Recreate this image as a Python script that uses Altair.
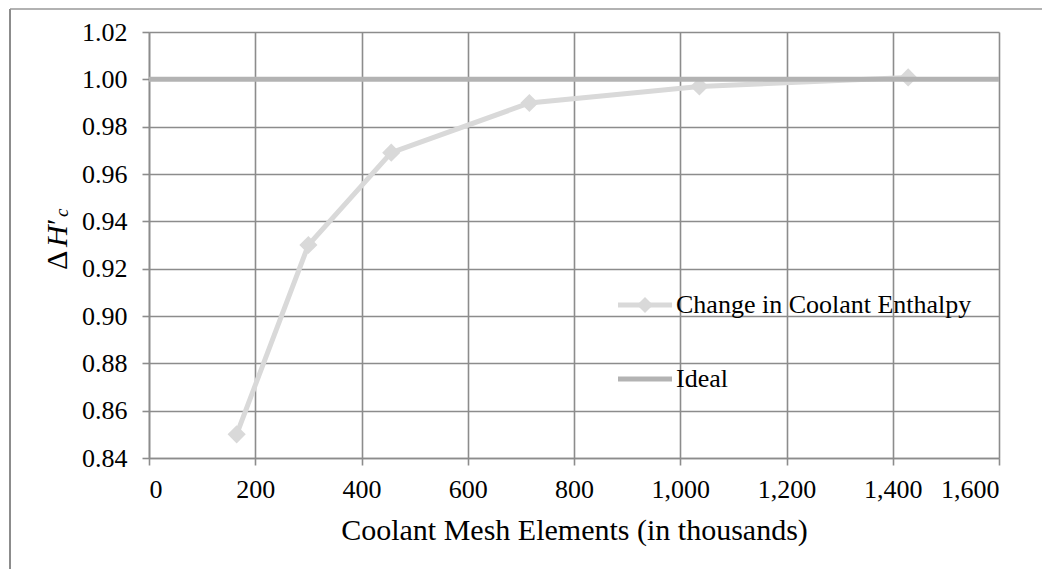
import altair as alt
import pandas as pd

# ---- data ----
mesh_k = [165, 300, 456, 716, 1036, 1429]            # coolant mesh elements (thousands)
enthalpy = [0.850, 0.930, 0.969, 0.990, 0.997, 1.0008]  # normalised change in enthalpy
ideal_x = [0, 1600]
ideal_y = [1.0, 1.0]
series_names = ["Change in Coolant Enthalpy", "Ideal"]
x_ticks = [0, 200, 400, 600, 800, 1000, 1200, 1400, 1600]
y_ticks = [0.84, 0.86, 0.88, 0.90, 0.92, 0.94, 0.96, 0.98, 1.00, 1.02]
x_title = "Coolant Mesh Elements (in thousands)"

FONT = "Liberation Serif"
GRID = "#8c8c8c"
C_CHANGE = "#d9d9d9"
C_IDEAL = "#b3b3b3"

W, H = 850, 426

change_df = pd.DataFrame({"x": mesh_k, "y": enthalpy})
ideal_df = pd.DataFrame({"x": ideal_x, "y": ideal_y})

x_enc = alt.X(
    "x:Q",
    scale=alt.Scale(domain=[0, 1600], nice=False, zero=False),
    axis=alt.Axis(
        values=x_ticks, format=",d", title=x_title,
        titleY=72, titleBaseline="middle", titleFontSize=30,
        titleFont=FONT, titleFontWeight="normal", titleColor="black",
        labelPadding=11,
    ),
)
y_enc = alt.Y(
    "y:Q",
    scale=alt.Scale(domain=[0.84, 1.02], nice=False, zero=False),
    axis=alt.Axis(values=y_ticks, format=".2f", title=None, labelPadding=15),
)

change_line = alt.Chart(change_df).mark_line(
    color=C_CHANGE, strokeWidth=5
).encode(x=x_enc, y=y_enc)

change_pts = alt.Chart(change_df).mark_point(
    shape="diamond", filled=True, color=C_CHANGE, size=330, opacity=1
).encode(x=x_enc, y=y_enc)

ideal_line = alt.Chart(ideal_df).mark_line(
    color=C_IDEAL, strokeWidth=5
).encode(x=x_enc, y=y_enc)

one = alt.Data(values=[{"k": 1}])

# ---- legend (drawn inside the plot) ----
leg_x0, leg_x1, leg_dx, leg_tx = 469, 523, 496, 527
leg_y = [273, 347]

leg_change_line = alt.Chart(one).mark_rule(color=C_CHANGE, strokeWidth=5).encode(
    x=alt.value(leg_x0), x2=alt.value(leg_x1), y=alt.value(leg_y[0]))
leg_change_pt = alt.Chart(one).mark_point(
    shape="diamond", filled=True, color=C_CHANGE, size=260, opacity=1
).encode(x=alt.value(leg_dx), y=alt.value(leg_y[0]))
leg_change_txt = alt.Chart(one).mark_text(
    text=series_names[0], font=FONT, fontSize=26, align="left", baseline="middle", color="black"
).encode(x=alt.value(leg_tx), y=alt.value(leg_y[0]))

leg_ideal_line = alt.Chart(one).mark_rule(color=C_IDEAL, strokeWidth=5).encode(
    x=alt.value(leg_x0), x2=alt.value(leg_x1), y=alt.value(leg_y[1]))
leg_ideal_txt = alt.Chart(one).mark_text(
    text=series_names[1], font=FONT, fontSize=26, align="left", baseline="middle", color="black"
).encode(x=alt.value(leg_tx), y=alt.value(leg_y[1]))

# ---- y-axis title  ΔH′c (rotated) ----
yt_x = -82
yt_delta = alt.Chart(one).mark_text(
    text="Δ", font=FONT, fontSize=30, angle=270, align="left", baseline="alphabetic", color="black"
).encode(x=alt.value(yt_x), y=alt.value(238))
yt_h = alt.Chart(one).mark_text(
    text="H", font=FONT, fontSize=30, fontStyle="italic", angle=270, align="left",
    baseline="alphabetic", color="black"
).encode(x=alt.value(yt_x), y=alt.value(215))
yt_prime = alt.Chart(one).mark_text(
    text="′", font=FONT, fontSize=30, angle=270, align="left", baseline="alphabetic", color="black"
).encode(x=alt.value(yt_x), y=alt.value(193))
yt_c = alt.Chart(one).mark_text(
    text="c", font=FONT, fontSize=19, fontStyle="italic", angle=270, align="left",
    baseline="alphabetic", color="black"
).encode(x=alt.value(yt_x + 1), y=alt.value(185))

# ---- outer chart frame (left and top edges) ----
frame_left = alt.Chart(one).mark_rule(color="#8c8c8c", strokeWidth=2).encode(
    x=alt.value(-139), y=alt.value(-23), y2=alt.value(H + 111))
frame_top = alt.Chart(one).mark_rule(color="#999999", strokeWidth=1.5).encode(
    x=alt.value(-139), x2=alt.value(W + 43), y=alt.value(-23))

chart = alt.layer(
    change_line, change_pts, ideal_line,
    leg_change_line, leg_change_pt, leg_change_txt,
    leg_ideal_line, leg_ideal_txt,
    yt_delta, yt_h, yt_prime, yt_c,
    frame_left, frame_top,
).properties(
    width=W, height=H,
    autosize=alt.AutoSizeParams(type="none"),
    padding={"left": 141, "top": 24, "right": 43, "bottom": 111},
    background="white",
).configure_view(
    stroke=None
).configure_axis(
    grid=True, gridColor=GRID, gridWidth=1.6, gridOpacity=1,
    domain=True, domainColor=GRID, domainWidth=1.6,
    ticks=True, tickColor=GRID, tickWidth=1.6, tickSize=7,
    labelFont=FONT, labelFontSize=26, labelColor="black",
)

chart.save("out.html", embed_options={"renderer": "svg", "actions": False})
